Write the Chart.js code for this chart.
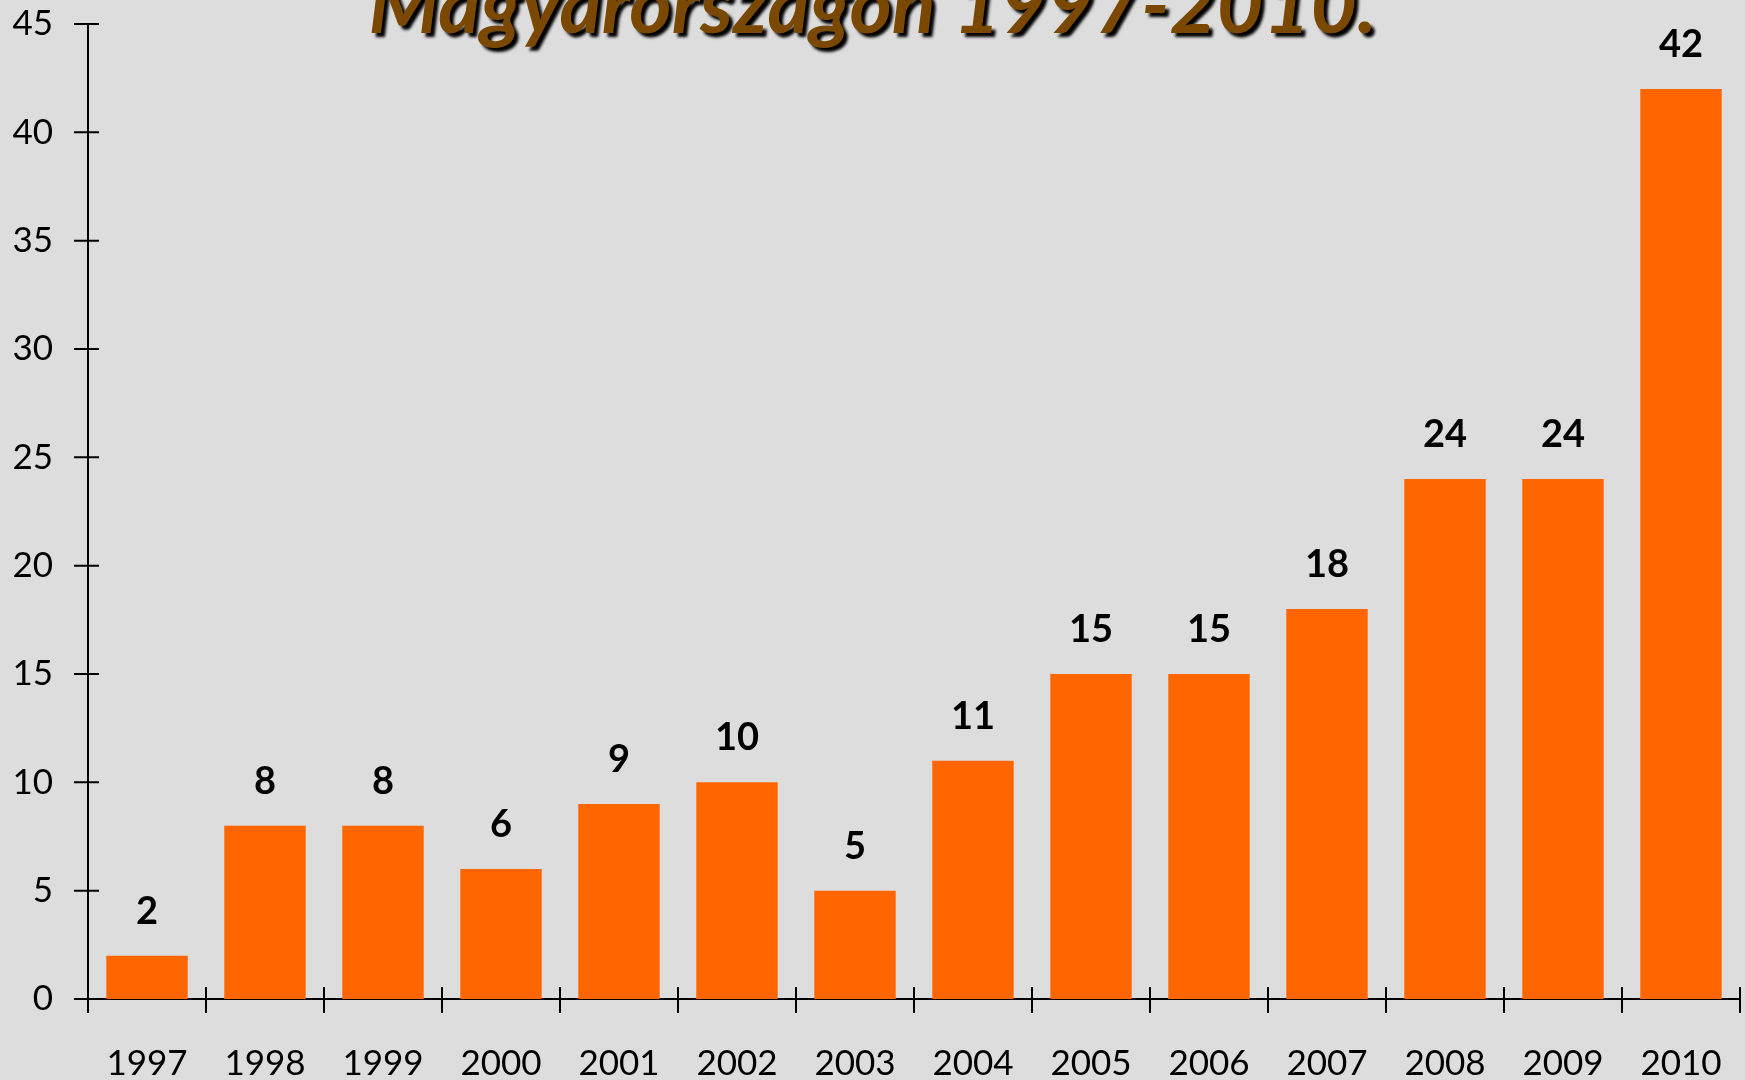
<!DOCTYPE html>
<html>
<head>
<meta charset="utf-8">
<script src="https://cdn.jsdelivr.net/npm/chart.js@4"></script>
<style>
body { margin: 0; background: #dddddd; overflow: hidden; }
#wrap { position: relative; width: 1745px; height: 1080px; }
#title {
    position: absolute; left: 0; top: -47px; width: 1745px;
    text-align: center; line-height: 1;
    font: italic bold 81px Lato, sans-serif; color: #7a4800;
    text-shadow: 4px 4px 3px #000;
    white-space: nowrap;
}
</style>
</head>
<body>
<div id="wrap">
    <canvas id="myChart" width="1745" height="1080"></canvas>
    <div id="title">Magyarországon 1997-2010.</div>
</div>
<script>
const years = ['1997', '1998', '1999', '2000', '2001', '2002', '2003', '2004', '2005', '2006', '2007', '2008', '2009', '2010'];
const counts = [2, 8, 8, 6, 9, 10, 5, 11, 15, 15, 18, 24, 24, 42];
const yTickValues = [0, 5, 10, 15, 20, 25, 30, 35, 40, 45];

// value labels above the bars
const barLabels = {
    id: 'barLabels',
    afterDatasetsDraw(chart) {
        const ctx = chart.ctx;
        const meta = chart.getDatasetMeta(0);
        ctx.save();
        ctx.font = 'bold 38px Lato';
        ctx.fillStyle = '#000';
        ctx.textAlign = 'center';
        ctx.textBaseline = 'alphabetic';
        meta.data.forEach((bar, i) => {
            ctx.fillText(String(counts[i]), bar.x, bar.y - 32);
        });
        ctx.restore();
    }
};

// tick marks crossing the axes
const crossTicks = {
    id: 'crossTicks',
    afterDraw(chart) {
        const ctx = chart.ctx;
        const x = chart.scales.x;
        const y = chart.scales.y;
        ctx.save();
        ctx.strokeStyle = '#000';
        ctx.lineWidth = 2;
        ctx.beginPath();
        yTickValues.forEach(v => {
            const py = y.getPixelForValue(v);
            ctx.moveTo(x.left - 14, py);
            ctx.lineTo(x.left + 11, py);
        });
        const cat = (x.right - x.left) / years.length;
        for (let i = 0; i <= years.length; i++) {
            const px = x.getPixelForValue(0) + (i - 0.5) * cat;
            ctx.moveTo(px, y.bottom - 12);
            ctx.lineTo(px, y.bottom + 14);
        }
        ctx.stroke();
        ctx.restore();
    }
};

// keep the plot area where the layout padding puts it
function noEdgePadding(s) {
    s.paddingTop = 0;
    s.paddingBottom = 0;
    s.paddingLeft = 0;
    s.paddingRight = 0;
}

new Chart('myChart', {
    type: 'bar',
    data: {
        labels: years,
        datasets: [{
            data: counts,
            backgroundColor: '#ff6600',
            borderWidth: 0,
            barPercentage: 0.69,
            categoryPercentage: 1.0
        }]
    },
    options: {
        responsive: false,
        animation: false,
        layout: { padding: { top: 24, right: 5, left: 0, bottom: 0 } },
        plugins: {
            legend: { display: false },
            tooltip: { enabled: false }
        },
        scales: {
            x: {
                grid: { display: false, drawTicks: false },
                border: { display: true, color: '#000', width: 2 },
                ticks: { color: '#000', font: { family: 'Lato', size: 35 }, padding: 44, maxRotation: 0 },
                afterFit: (s) => { s.height = 81; noEdgePadding(s); }
            },
            y: {
                min: 0,
                max: 45,
                grid: { display: false, drawTicks: false },
                border: { display: true, color: '#000', width: 2 },
                ticks: { stepSize: 5, color: '#000', font: { family: 'Lato', size: 35 }, padding: 35 },
                afterFit: (s) => { s.width = 88; noEdgePadding(s); }
            }
        }
    },
    plugins: [barLabels, crossTicks]
});
</script>
</body>
</html>
